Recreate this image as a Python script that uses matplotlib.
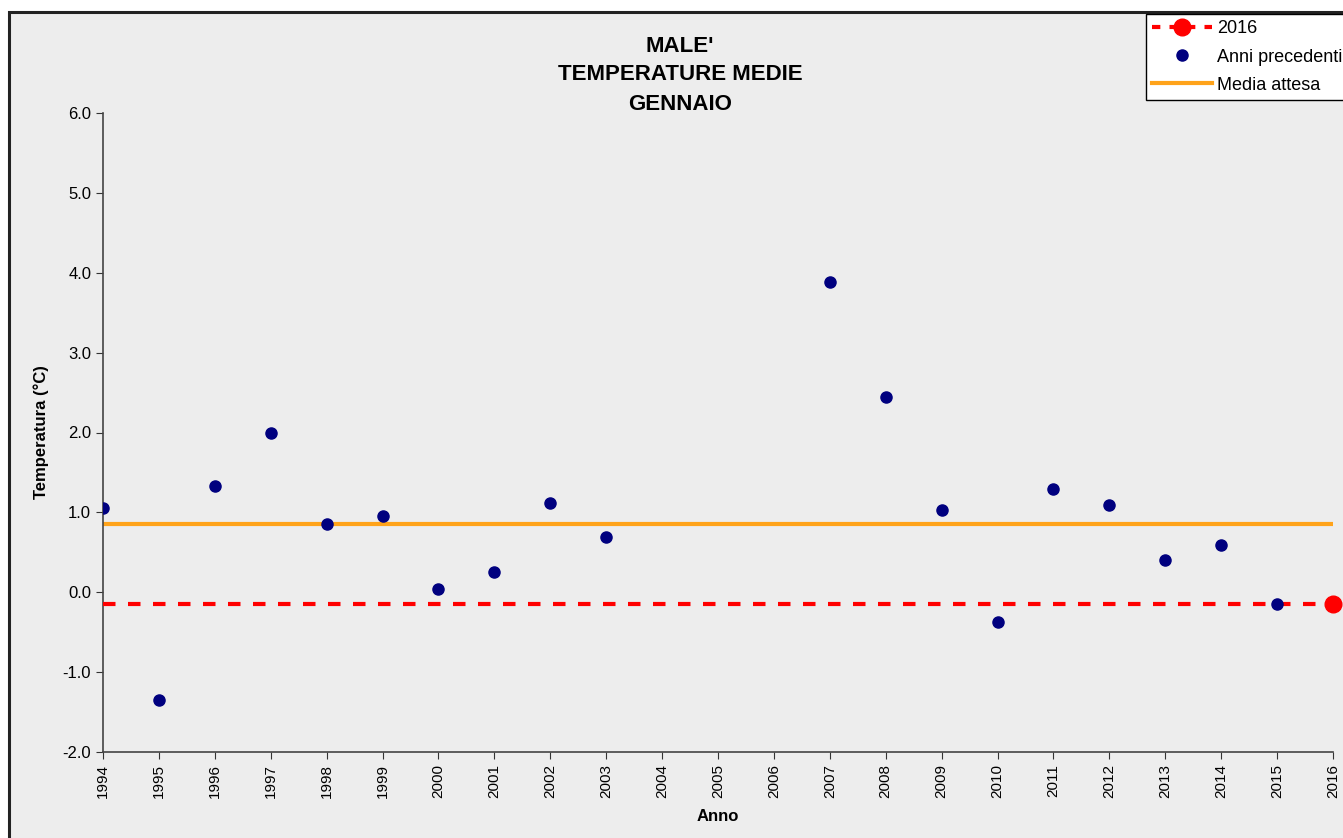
import matplotlib.pyplot as plt
from matplotlib.patches import Rectangle
from matplotlib.lines import Line2D

# Data
anni = [1994, 1995, 1996, 1997, 1998, 1999, 2000, 2001, 2002, 2003,
        2007, 2008, 2009, 2010, 2011, 2012, 2013, 2014, 2015]
temperature = [1.06, -1.35, 1.33, 2.00, 0.85, 0.96, 0.04, 0.25, 1.12, 0.69,
               3.88, 2.44, 1.03, -0.37, 1.29, 1.09, 0.40, 0.59, -0.15]
anno_corrente = 2016
temp_corrente = -0.15
media_attesa = 0.86
anni_tick = list(range(1994, 2017))

plt.rcParams["font.family"] = ["Liberation Sans", "DejaVu Sans"]

fig = plt.figure(figsize=(13.43, 8.38), dpi=100, facecolor="white")

# chart area background with black border (left/top visible)
fig.patches.append(Rectangle((9 / 1343, -0.01), 1.0, 1 - 12 / 838 + 0.01,
                             transform=fig.transFigure, facecolor="#ededed",
                             edgecolor="#222222", linewidth=2.2, zorder=-10))

ax = fig.add_axes([103 / 1343, 1 - 752 / 838, (1333 - 103) / 1343, (752 - 113) / 838])
ax.set_facecolor("none")

# expected mean
ax.plot([anni_tick[0], anni_tick[-1]], [media_attesa, media_attesa],
        color="#ffa31a", linewidth=3, label="Media attesa", zorder=2)
# current year line + marker
ax.plot([anni_tick[0], anni_tick[-1]], [temp_corrente, temp_corrente],
        color="red", linestyle=(0, (3, 3)), linewidth=3, zorder=3)
ax.plot([anno_corrente], [temp_corrente], "o", color="red", markersize=12,
        zorder=5, clip_on=False)
# previous years
ax.plot(anni, temperature, "o", color="#00007f", markersize=8, zorder=4,
        label="Anni precedenti")

ax.set_xlim(1994, 2016)
ax.set_ylim(-2.0, 6.0)
ax.set_xticks(anni_tick)
ax.set_xticklabels([str(a) for a in anni_tick], rotation=90, fontsize=11)
ax.set_yticks([-2, -1, 0, 1, 2, 3, 4, 5, 6])
ax.set_yticklabels([f"{v:.1f}" for v in [-2, -1, 0, 1, 2, 3, 4, 5, 6]], fontsize=12)
ax.tick_params(direction="out", length=5, color="#333333")

for s in ["top", "right"]:
    ax.spines[s].set_visible(False)
for s in ["left", "bottom"]:
    ax.spines[s].set_color("#444444")
    ax.spines[s].set_linewidth(1.2)

ax.set_xlabel("Anno", fontsize=12, fontweight="bold", labelpad=8)
ax.set_ylabel("Temperatura (°C)", fontsize=12, fontweight="bold", labelpad=10)

fig.text(680 / 1343, 1 - 75 / 838, "MALE'\nTEMPERATURE MEDIE\nGENNAIO", ha="center",
         va="center", fontsize=16, fontweight="bold", linespacing=1.5)

# legend
handles = [
    Line2D([], [], color="red", linestyle=(0, (2, 2.2)), linewidth=3,
           marker="o", markersize=12),
    Line2D([], [], color="#00007f", linestyle="none", marker="o", markersize=8),
    Line2D([], [], color="#ffa31a", linewidth=3),
]
leg = fig.legend(handles, ["2016", "Anni precedenti", "Media attesa"],
                 loc="upper left", bbox_to_anchor=(1146 / 1343, 1 - 14 / 838),
                 fontsize=13, frameon=True, fancybox=False, framealpha=1,
                 edgecolor="black", facecolor="white", handlelength=3.3,
                 borderpad=0.35, labelspacing=0.62, handletextpad=0.3,
                 borderaxespad=0)
leg.get_frame().set_linewidth(1)

fig.savefig("out.png", dpi=100)
